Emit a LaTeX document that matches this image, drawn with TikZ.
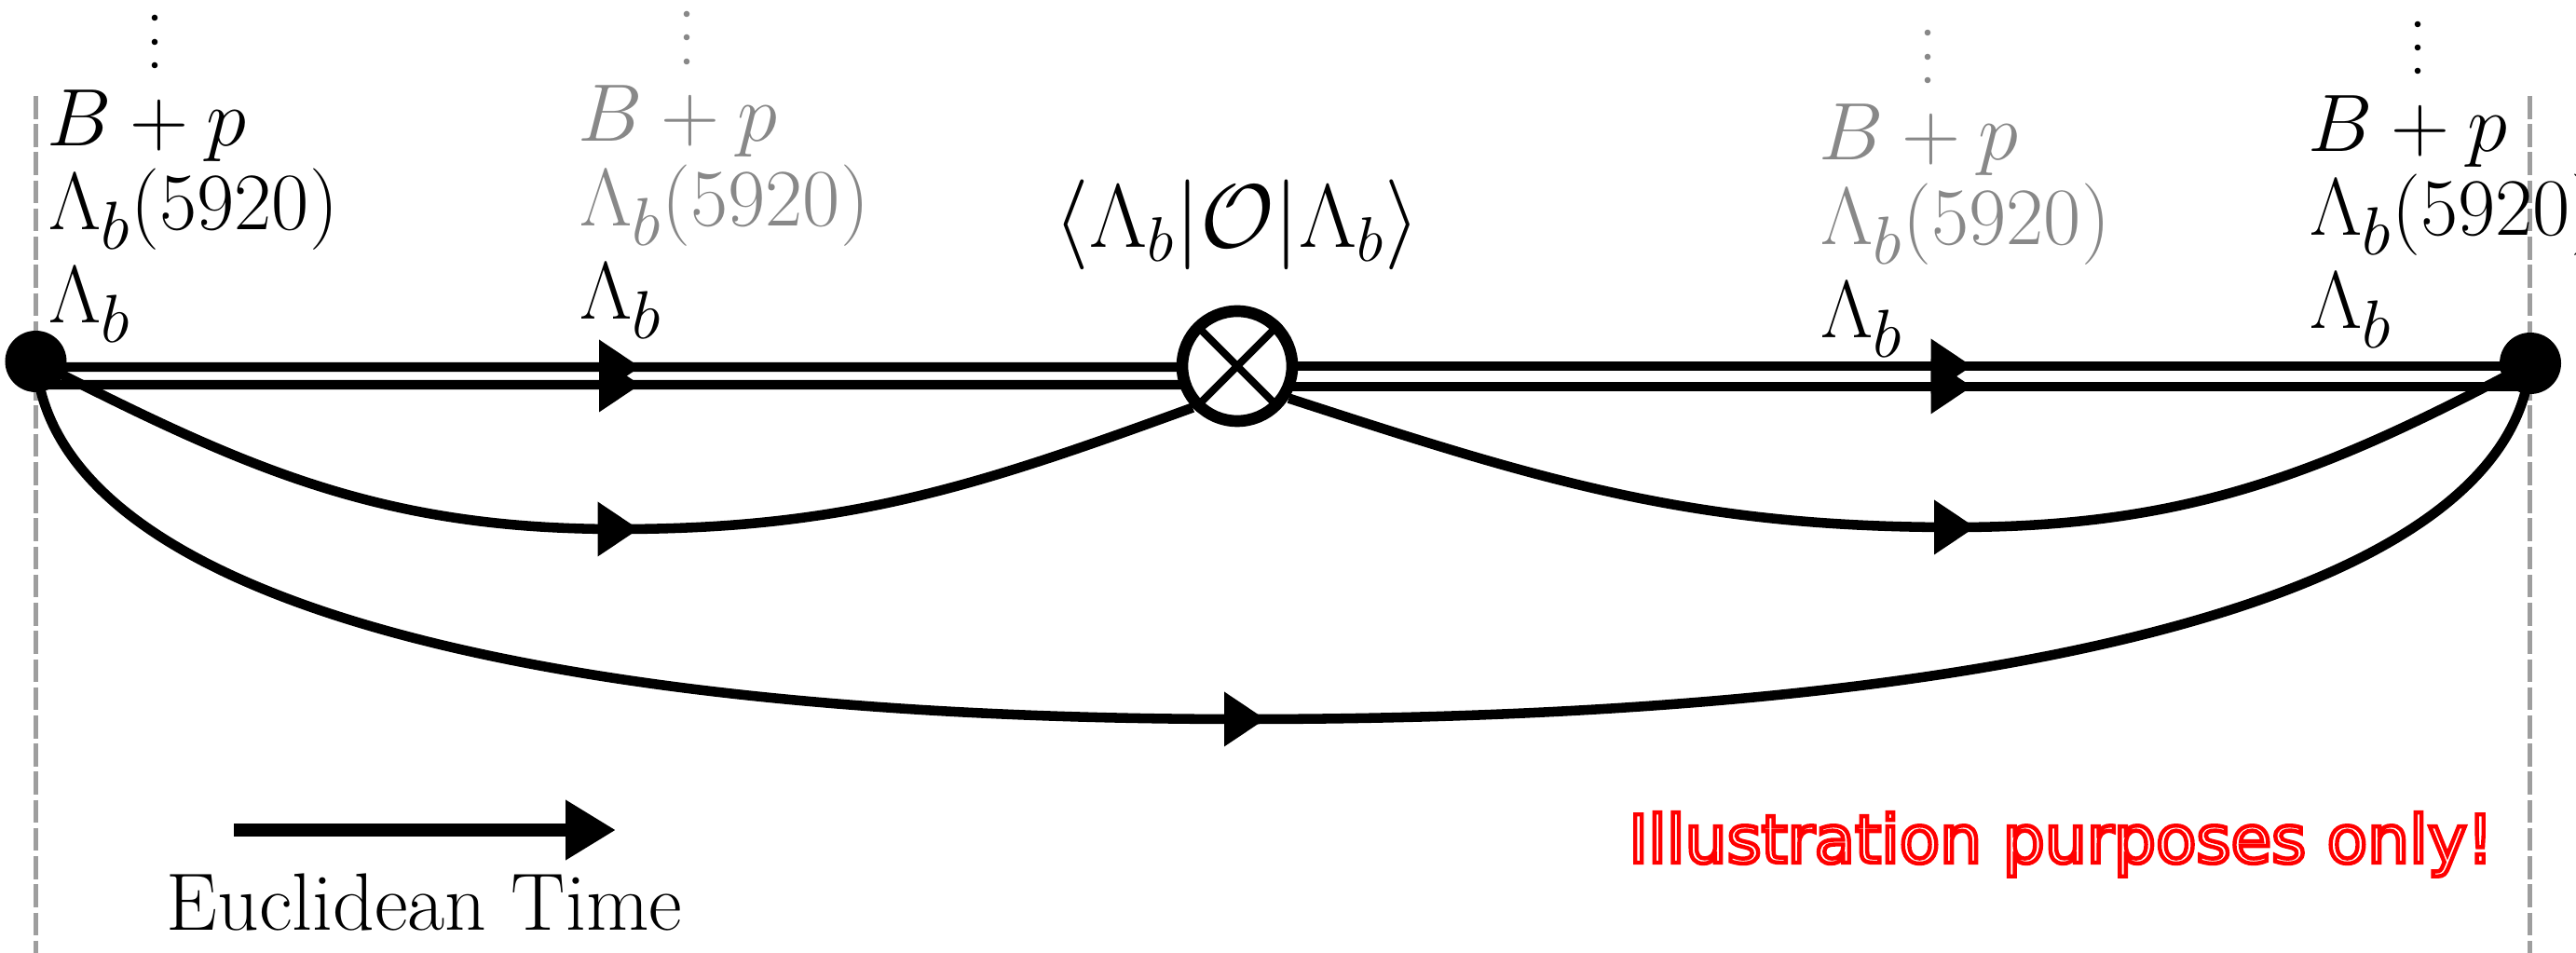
\RequirePackage{fix-cm}
\documentclass[tikz,border=0pt]{standalone}
\usepackage{fontspec}
\usetikzlibrary{arrows.meta,backgrounds}
\newfontfamily\illfont{DejaVu Sans}
\definecolor{lblgray}{RGB}{136,136,136}
\definecolor{dashgray}{RGB}{158,158,158}
\tikzset{
 lbl/.style={anchor=base west, inner sep=0pt, font=\fontsize{24.88}{29}\selectfont},
 glbl/.style={lbl, text=lblgray},
 dline/.style={line width=2.9pt},
 prop/.style={line width=3pt},
 vert/.style={circle, fill=black, inner sep=0pt, minimum size=0.66cm},
 tline/.style={dashgray, line width=1.3pt, dash pattern=on 7pt off 1.6pt},
 arr/.pic={\fill (0.22,0) -- (-0.22,0.295) -- (-0.22,-0.295) -- cycle;},
}
\begin{document}
\begin{tikzpicture}
\useasboundingbox (0,0) rectangle (27.65,-10.23);
% vertices and operator
\node[vert] (L) at (0.385,-3.88) {};
\node[vert] (R) at (27.16,-3.90) {};
\node[circle, draw, fill=white, line width=3.6pt, inner sep=0pt, minimum size=1.18cm] (op) at (13.28,-3.93) {};
\draw[line width=2.3pt, shorten <=1.5pt, shorten >=1.5pt] (op.45) -- (op.225) (op.135) -- (op.-45);
\begin{scope}[on background layer]
 \coordinate (Lt) at (0.385,-1.03); \coordinate (Lb) at (0.385,-10.23);
 \coordinate (Rt) at (27.155,-1.03); \coordinate (Rb) at (27.155,-10.23);
 \draw[tline] (Lt) -- (Lb);
 \draw[tline] (Rt) -- (Rb);
 \draw[dline] ([yshift=-0.06cm]L.center) -- ([yshift=-0.01cm]op.center);
 \draw[dline] ([yshift=-0.25cm]L.center) -- ([yshift=-0.20cm]op.center);
 \draw[dline] (op.center) -- ([yshift=-0.03cm]R.center);
 \draw[dline] ([yshift=-0.22cm]op.center) -- ([yshift=-0.25cm]R.center);
 \coordinate (a1) at (6.635,-5.68);
 \coordinate (a2) at (20.98,-5.66);
 \coordinate (a3) at (13.36,-7.72);
 \draw[prop] (L.center) to[out=-27,in=180] (a1) to[out=0,in=200] (op.223);
 \draw[prop] (op.-32) to[out=-18,in=180] (a2) to[out=0,in=208] (R.center);
 \draw[prop] (L.center) .. controls (0.60,-6.50) and (6.0,-7.72) .. (a3)
   .. controls (21.19,-7.72) and (26.93,-6.50) .. (R.center);
\end{scope}
% arrowheads
\pic at (6.65,-3.94) {arr}; \pic at (6.65,-4.13) {arr};
\pic at (20.945,-3.93) {arr}; \pic at (20.945,-4.15) {arr};
\pic at (a1) {arr}; \pic at (a2) {arr}; \pic at (a3) {arr};
% labels column 1
\node[lbl] (c1a) at (0.50,-1.57) {$B+p$};
\node[lbl] (c1b) at (0.52,-2.47) {$\Lambda_b(5920)$};
\node[lbl] (c1c) at (0.52,-3.47) {$\Lambda_b$};
\fill (1.66,-0.19) circle (0.033) (1.66,-0.45) circle (0.033) (1.66,-0.70) circle (0.033);
% column 2
\node[glbl] (c2a) at (6.20,-1.52) {$B+p$};
\node[glbl] (c2b) at (6.22,-2.43) {$\Lambda_b(5920)$};
\node[lbl] (c2c) at (6.22,-3.43) {$\Lambda_b$};
\fill[lblgray] (7.37,-0.15) circle (0.033) (7.37,-0.40) circle (0.033) (7.37,-0.66) circle (0.033);
% column 3
\node[glbl] (c3a) at (19.52,-1.72) {$B+p$};
\node[glbl] (c3b) at (19.54,-2.63) {$\Lambda_b(5920)$};
\node[lbl] (c3c) at (19.54,-3.63) {$\Lambda_b$};
\fill[lblgray] (20.69,-0.35) circle (0.033) (20.69,-0.61) circle (0.033) (20.69,-0.86) circle (0.033);
% column 4
\node[lbl] (c4a) at (24.77,-1.63) {$B+p$};
\node[lbl] (c4b) at (24.79,-2.53) {$\Lambda_b(5920)$};
\node[lbl] (c4c) at (24.79,-3.53) {$\Lambda_b$};
\fill (25.95,-0.26) circle (0.033) (25.95,-0.51) circle (0.033) (25.95,-0.76) circle (0.033);
% matrix element
\node[anchor=base, inner sep=0pt, font=\fontsize{27.5}{32}\selectfont] (me) at (13.28,-2.66) {$\langle\Lambda_b|\mathcal{O}|\Lambda_b\rangle$};
% Euclidean time
\coordinate (et0) at (2.51,-8.91);
\coordinate (et1) at (6.61,-8.91);
\draw[line width=4pt, -{Triangle[length=5.4mm,width=6.1mm]}] (et0) -- (et1);
\node[lbl] (etl) at (1.78,-9.99) {Euclidean Time};
% disclaimer (outlined text)
\node[anchor=base east, inner sep=0pt, text=red, font=\illfont\fontsize{20.2}{24}\selectfont] (ill) at (26.77,-9.26) {\special{pdf:literal direct 1 Tr 1.25 w}Illustration purposes only!\special{pdf:literal direct 0 Tr}};
\end{tikzpicture}
\end{document}
